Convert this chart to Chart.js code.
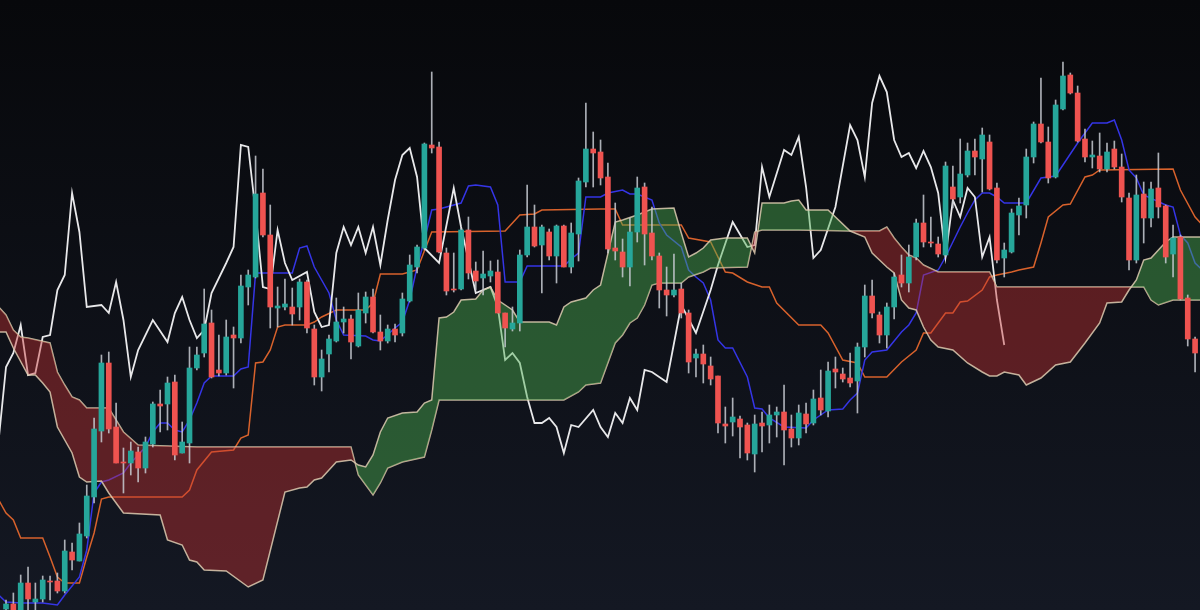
<!DOCTYPE html>
<html><head><meta charset="utf-8">
<script src="https://cdn.jsdelivr.net/npm/chart.js@4.4.1/dist/chart.umd.min.js"></script>
<style>html,body{margin:0;padding:0;background:#0b0d12;overflow:hidden}#wrap{width:1200px;height:610px}</style>
</head><body><div id="wrap"><canvas id="c" width="1200" height="610"></canvas></div>
<script>
const opens=[1,6,0,27,8,11,29,29,19,58,
49,74,113,179,247,183,148,147,158,142,
166,206,206,228,157,167,242,257,287,240,
237,275,272,323,333,417,375,302,303,303,
303,328,281,233,256,269,288,291,264,297,
313,278,269,281,277,309,343,362,465,463,
357,321,321,380,339,332,334,338,297,281,
287,355,383,365,378,354,384,343,376,428,
461,458,433,362,358,343,378,423,377,354,
320,315,321,297,252,256,244,234,186,188,
191,185,156,187,185,195,198,181,172,196,
187,212,199,241,236,232,229,263,314,295,
275,303,335,327,353,387,368,366,355,423,
413,435,459,451,468,422,352,358,395,405,
453,486,468,433,501,535,517,471,453,454,
441,461,443,412,350,416,392,422,404,356,
373,312,271];
const closes=[6,0,27,11,11,30,28,19,59,50,
76,114,181,247,181,147,147,159,142,168,
206,204,227,155,168,242,255,286,233,237,
273,272,324,335,416,375,303,304,306,296,
328,282,233,251,271,288,291,268,300,313,
278,269,281,275,311,345,363,466,462,358,
319,320,380,337,329,336,339,297,282,287,
355,383,364,383,354,384,343,377,429,461,
457,432,361,359,343,378,422,376,354,320,
315,320,297,248,256,246,231,187,184,193,
183,157,186,184,195,198,180,172,197,186,
211,200,239,238,231,227,263,314,297,275,
303,333,327,353,387,368,367,356,444,411,
436,459,453,475,421,350,360,397,404,453,
486,468,432,505,534,517,469,453,455,441,
458,443,413,350,415,392,421,403,353,372,
311,271,257];
const highs=[10,17,35,43,27,34,34,37,70,67,
87,125,192,255,258,207,162,168,163,173,
208,220,233,235,188,263,263,321,300,275,
290,283,335,340,454,441,405,323,331,322,
331,330,285,260,275,312,303,295,317,318,
321,295,285,286,317,355,365,467,538,468,
362,357,382,393,348,359,349,350,297,303,
360,425,405,385,381,385,385,387,432,507,
478,470,447,407,371,392,433,427,403,357,
343,356,327,300,261,265,253,234,203,212,
194,187,195,198,205,203,225,195,205,207,
220,240,248,253,242,257,267,325,330,298,
307,337,355,365,391,415,393,373,448,444,
471,467,471,482,475,427,367,401,412,461,
488,532,483,510,548,537,524,481,469,477,
467,469,456,417,435,428,428,457,405,385,
375,315,273];
const lows=[-2,-2,-2,0,0,8,10,17,17,40,
49,72,107,168,177,147,117,135,128,137,
163,178,180,150,157,147,240,253,232,234,
235,222,267,305,332,373,282,283,300,285,
290,277,225,219,238,268,277,251,263,287,
277,260,267,268,274,308,337,360,457,357,
315,318,320,331,320,315,328,297,263,279,
279,353,363,317,350,327,343,337,349,423,
423,425,357,350,333,324,368,345,350,302,
294,313,292,237,233,227,225,177,167,174,
152,150,138,158,167,173,145,163,165,177,
185,195,193,222,228,223,197,253,292,267,
262,291,323,318,350,363,363,353,353,402,
407,433,435,418,420,347,333,357,375,392,
447,467,427,432,500,516,468,448,442,438,
438,441,408,340,347,367,383,392,347,333,
310,264,238];

const tenkanPts=[[-1,15],[0,8],[2,7],[5,7],[7,5],[8,15],[10,33],[11,60],[12,117],[13,128],[14,130],[16,137],[17,147],[19,163],[20,178],[21,187],[22,187],[23,180],[24,178],[25,190],[26,207],[27,227],[28,234],[31,234],[32,241],[33,243],[34,337],[39,337],[40,362],[41,364],[42,343],[44,317],[45,290],[46,275],[49,274],[50,270],[51,269],[53,282],[54,288],[55,310],[56,343],[57,370],[58,400],[59,401],[62,407],[63,424],[64,425],[66,423],[67,405],[68,328],[70,328],[71,344],[76,344],[77,351],[78,357],[79,413],[81,413],[82,417],[84,420],[85,416],[86,416],[88,410],[89,387],[90,375],[92,363],[93,340],[94,333],[95,327],[96,310],[97,270],[98,262],[99,262],[101,233],[102,202],[103,201],[104,192],[106,183],[109,182],[110,190],[112,200],[114,201],[115,210],[116,217],[117,250],[118,258],[120,260],[122,278],[123,285],[124,297],[125,335],[127,340],[128,353],[130,383],[131,397],[132,410],[133,417],[134,417],[135,413],[136,407],[139,407],[141,432],[143,434],[144,445],[146,467],[148,487],[150,487],[151,490],[152,470],[153,440],[154,432],[155,415],[158,405],[159,403],[160,375],[161,367],[162,347],[163,340]];

const kijunPts=[[-1,110],[0,97],[1,90],[2,72],[5,72],[6,53],[7,33],[8,27],[10,27],[11,53],[12,77],[13,111],[14,113],[24,113],[25,120],[26,140],[28,158],[31,160],[32,172],[33,175],[34,247],[35,248],[36,260],[37,283],[38,285],[41,285],[42,288],[43,293],[45,300],[49,300],[50,307],[51,336],[54,336],[56,340],[58,378],[68,379],[70,395],[72,396],[73,400],[81,401],[83,401],[84,385],[92,385],[93,372],[96,368],[98,338],[99,337],[101,328],[103,323],[104,323],[105,307],[108,285],[111,285],[112,277],[114,250],[116,247],[117,233],[120,233],[122,248],[124,260],[125,277],[126,277],[128,297],[129,297],[130,308],[131,309],[133,320],[134,333],[135,335],[137,338],[138,340],[140,343],[141,367],[142,393],[144,405],[145,406],[147,433],[148,435],[149,440],[159,441],[160,420],[162,393],[163,385]];

const chikouPts=[[-1,170],[0,243],[1,257],[2,285],[3,235],[4,237],[5,273],[6,275],[7,320],[8,335],[9,417],[10,378],[11,303],[13,305],[14,297],[15,328],[16,290],[17,233],[18,260],[20,290],[22,268],[23,297],[24,313],[25,290],[26,272],[27,280],[28,317],[30,347],[31,363],[32,465],[33,463],[34,398],[35,323],[36,321],[37,380],[38,347],[39,330],[41,338],[42,298],[43,283],[44,285],[45,357],[46,383],[47,365],[48,383],[49,357],[50,383],[51,345],[52,390],[53,430],[54,455],[55,462],[56,433],[57,362],[59,347],[61,422],[62,383],[63,350],[64,317],[66,323],[67,303],[68,250],[69,257],[70,247],[71,213],[72,187],[73,187],[74,192],[75,183],[76,157],[77,185],[78,183],[80,200],[81,183],[82,173],[83,197],[84,187],[85,212],[86,200],[87,240],[88,238],[90,228],[92,305],[94,277],[96,320],[97,345],[99,388],[101,363],[102,365],[103,443],[104,413],[106,460],[107,455],[108,473],[109,423],[110,352],[111,360],[113,403],[115,485],[116,470],[117,433],[118,507],[119,534],[120,518],[121,470],[122,453],[123,457],[124,442],[125,459],[126,443],[127,417],[128,353],[129,410],[130,393],[131,422],[132,413],[133,353],[134,373],[135,310],[136,265]];

const spanAPts=[[-1,278],[0,278],[1,262],[3,235],[4,235],[5,227],[6,218],[7,183],[9,157],[10,133],[11,128],[13,129],[14,117],[16,97],[21,95],[22,70],[24,65],[25,50],[26,48],[27,40],[30,39],[33,23],[35,30],[38,118],[40,122],[41,123],[42,130],[43,132],[44,140],[45,148],[47,150],[48,145],[49,143],[50,155],[51,178],[52,192],[54,197],[56,198],[57,207],[58,210],[59,292],[60,293],[61,298],[62,310],[64,311],[65,320],[66,323],[67,310],[69,300],[70,288],[74,288],[75,285],[76,303],[77,308],[79,312],[80,320],[81,325],[83,388],[84,390],[86,395],[88,401],[91,402],[92,377],[93,353],[94,357],[95,362],[96,370],[98,372],[101,372],[102,357],[103,407],[106,407],[107,409],[108,410],[109,400],[112,400],[115,379],[117,373],[118,357],[119,350],[120,343],[121,337],[122,310],[123,302],[124,300],[125,283],[126,270],[127,263],[129,260],[131,247],[133,238],[134,234],[135,234],[136,238],[138,235],[139,225],[141,232],[143,245],[145,248],[147,267],[149,287],[150,307],[152,308],[153,320],[154,330],[155,350],[156,352],[158,368],[159,373],[163,373]];

const spanBPts=[[-1,303],[0,295],[1,280],[2,273],[3,272],[6,267],[7,238],[8,225],[9,213],[10,210],[11,202],[14,202],[16,178],[18,165],[26,163],[47,163],[48,135],[50,115],[51,127],[52,142],[54,148],[57,153],[58,180],[59,210],[76,210],[78,218],[79,225],[81,227],[83,267],[84,275],[85,287],[86,292],[87,305],[88,325],[89,327],[92,327],[93,333],[95,338],[96,342],[101,343],[102,378],[103,380],[108,380],[115,379],[119,379],[120,383],[121,372],[122,363],[123,355],[124,352],[125,345],[127,338],[134,338],[135,323],[155,323],[156,310],[157,305],[159,310],[163,310]];

const UP='#26a69a', DOWN='#ef5350';
const toXY = pts => pts.map(p => ({x:p[0], y:p[1]}));
const idx = opens.map((_,i)=>i);

const bgPlugin={id:'bg',beforeDraw(chart){const {ctx,width,height}=chart;const g=ctx.createLinearGradient(0,0,0,height);g.addColorStop(0,'#07080b');g.addColorStop(1,'#141823');ctx.save();ctx.fillStyle=g;ctx.fillRect(0,0,width,height);ctx.restore();}};

const lineBase={type:'line',pointRadius:0,pointHoverRadius:0,tension:0,fill:false};
const edge='rgba(222,205,178,0.85)';

new Chart(document.getElementById('c'),{
  type:'bar',
  data:{datasets:[
    {type:'bar',label:'body',data:idx.map(i=>({x:i,y:[opens[i],closes[i]]})),
     backgroundColor:c=>closes[c.dataIndex]>=opens[c.dataIndex]?UP:DOWN,
     barThickness:5,minBarLength:1,grouped:false,borderWidth:0,order:0},
    {type:'bar',label:'wick',data:idx.map(i=>({x:i,y:[lows[i],highs[i]]})),
     backgroundColor:'rgba(200,203,210,0.85)',barThickness:1,grouped:false,borderWidth:0,order:1},
    Object.assign({},lineBase,{label:'Senkou A',data:toXY(spanAPts),borderColor:edge,borderWidth:1.5,
     fill:{target:'+1',above:'rgba(76,175,80,0.45)',below:'rgba(200,50,50,0.42)'},order:2}),
    Object.assign({},lineBase,{label:'Senkou B',data:toXY(spanBPts),borderColor:edge,borderWidth:1.5,order:2}),
    Object.assign({},lineBase,{label:'Chikou',data:toXY(chikouPts),borderColor:'#e8e8ea',borderWidth:1.8,order:3}),
    Object.assign({},lineBase,{label:'Tenkan',data:toXY(tenkanPts),borderColor:'#3535e6',borderWidth:1.5,order:3}),
    Object.assign({},lineBase,{label:'Kijun',data:toXY(kijunPts),borderColor:'#d8622c',borderWidth:1.5,order:3})
  ]},
  options:{
    responsive:false,animation:false,devicePixelRatio:1,
    layout:{padding:0},
    plugins:{legend:{display:false},tooltip:{enabled:false},filler:{propagate:false}},
    scales:{
      x:{type:'linear',min:-0.82,max:162.67,offset:false,display:false,grid:{display:false}},
      y:{type:'linear',min:0,max:610,display:false,grid:{display:false}}
    }
  },
  plugins:[bgPlugin]
});
</script></body></html>
